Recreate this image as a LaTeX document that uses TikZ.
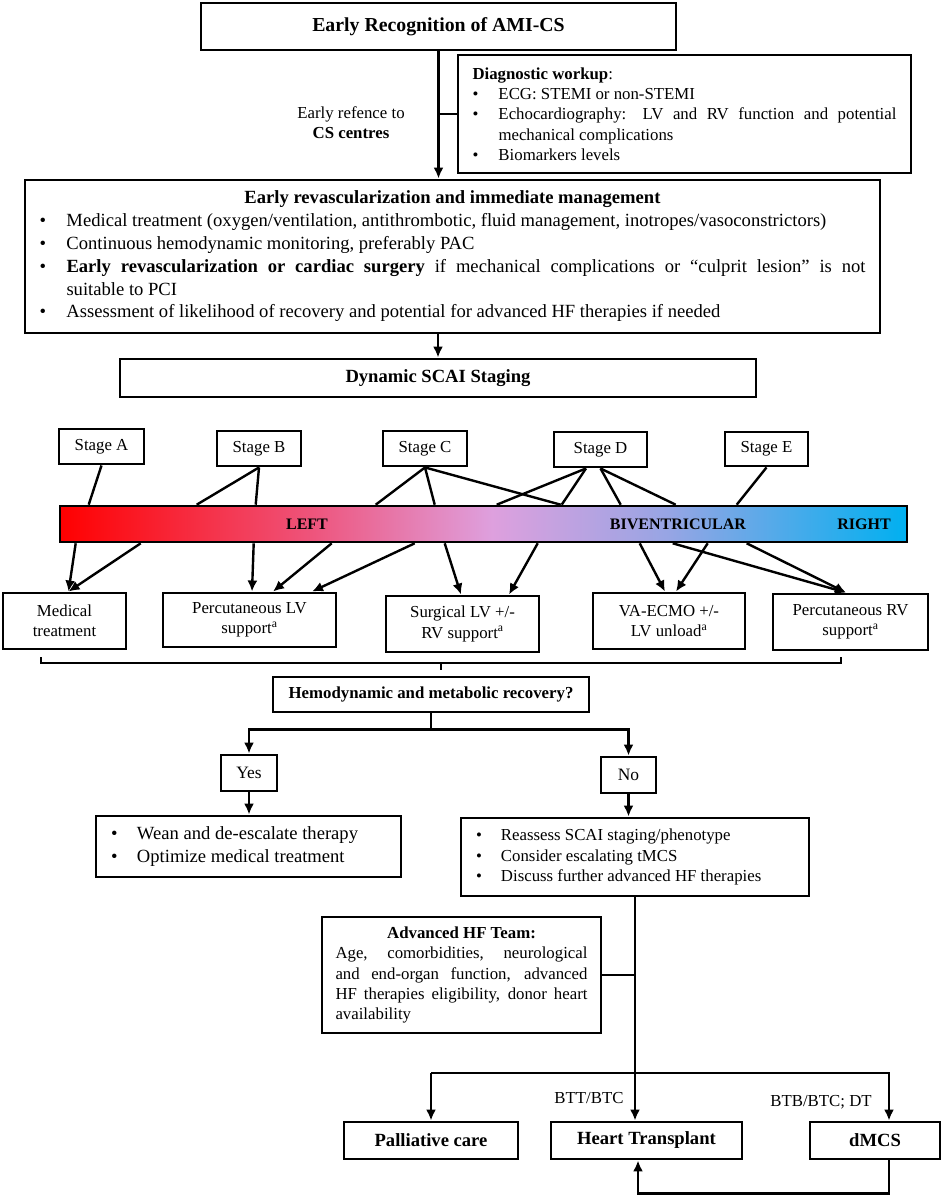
\documentclass[tikz,border=0pt]{standalone}
\usepackage{fontspec}
\setmainfont{Liberation Serif}
\usetikzlibrary{arrows.meta,calc}
\definecolor{g0}{RGB}{255,0,0}
\definecolor{g1}{RGB}{238,85,125}
\definecolor{g2}{RGB}{222,160,222}
\definecolor{g3}{RGB}{150,165,228}
\definecolor{g4}{RGB}{0,176,240}
\pgfdeclarehorizontalshading{barshade}{100bp}{color(0bp)=(g0); color(25bp)=(g0); color(40bp)=(g1); color(50.5bp)=(g2); color(61bp)=(g3); color(75bp)=(g4); color(100bp)=(g4)}
\newcommand\fsA{\fontsize{19.8}{23}\selectfont}
\newcommand\fsB{\fontsize{18.6}{22.8}\selectfont}
\newcommand\fsC{\fontsize{16.8}{20.3}\selectfont}
\newcommand\fsL{\fontsize{16}{19}\selectfont}
\newcommand\bitem{\par\noindent\llap{\hbox to \leftskip{•\hfil}}}
\begin{document}
\begin{tikzpicture}[x=1pt,y=-1pt,
  box/.style={draw, line width=2.9pt, inner sep=0pt, fill=white},
  conn/.style={line width=2.4pt},
  arr/.style={line width=2.4pt, -{Latex[length=11pt,width=10pt]}}]
\fill[white] (0,0) rectangle (944,1196);
\useasboundingbox (0,0) rectangle (944,1196);
% top part
\node[box, minimum width=475, minimum height=47, font=\fsA\bfseries] (top) at (438.5,26.5) {Early Recognition of AMI-CS};
\node[box, minimum width=453, minimum height=118] (diag) at (684.5,114) {\parbox{424pt}{\fsC\hyphenpenalty=10000\relax
\textbf{Diagnostic workup}:\par
\leftskip=26pt
\bitem ECG: STEMI or non-STEMI
\bitem Echocardiography: LV and RV function and potential\linebreak mechanical complications
\bitem Biomarkers levels}};
\node[font=\fsC, align=center] (ref) at (351,122.5) {Early refence to\\\textbf{CS centres}};
\node[box, minimum width=855, minimum height=153] (mgmt) at (452.5,256.5) {\parbox{826pt}{\fsB\hyphenpenalty=10000\relax
{\centering\bfseries Early revascularization and immediate management\par}
\leftskip=27pt
\bitem Medical treatment (oxygen/ventilation, antithrombotic, fluid management, inotropes/vasoconstrictors)
\bitem Continuous hemodynamic monitoring, preferably PAC
\bitem \textbf{Early revascularization or cardiac surgery} if mechanical complications or “culprit lesion” is not\linebreak suitable to PCI
\bitem Assessment of likelihood of recovery and potential for advanced HF therapies if needed}};
\node[box, minimum width=636, minimum height=38, font=\fsB\bfseries] (dyn) at (438,378) {Dynamic SCAI Staging};
\draw[arr] (top.south) -- (top.south |- mgmt.north);
\draw[conn] (top.south |- diag.west) -- (diag.west);
\draw[arr] (mgmt.south -| dyn.north) -- (dyn.north);
% stages
\node[box, minimum width=85, minimum height=35, font=\fsC] (sA) at (101.5,446.5) {Stage A};
\node[box, minimum width=84, minimum height=35, font=\fsC] (sB) at (259,448.5) {Stage B};
\node[box, minimum width=84, minimum height=35, font=\fsC] (sC) at (425,448.5) {Stage C};
\node[box, minimum width=93, minimum height=35, font=\fsC] (sD) at (600.5,449.5) {Stage D};
\node[box, minimum width=83, minimum height=34, font=\fsC] (sE) at (766.5,449) {Stage E};
% bar
\node[draw, line width=2.6pt, shade, shading=barshade, minimum width=847, minimum height=36, inner sep=0pt] (bar) at (483.5,524) {};
\node[font=\fsL\bfseries] (lL) at (307,524) {LEFT};
\node[font=\fsL\bfseries] (lB) at (678,524) {BIVENTRICULAR};
\node[font=\fsL\bfseries] (lR) at (864,524) {RIGHT};
% stage lines
\draw[conn] (sA.south) -- ($(bar.north west)+(30,0)$);
\draw[conn] (sB.south) -- ($(bar.north west)+(138,0)$);
\draw[conn] (sB.south) -- ($(bar.north west)+(197,0)$);
\draw[conn] (sC.south) -- ($(bar.north west)+(317,0)$);
\draw[conn] (sC.south) -- ($(bar.north west)+(376,0)$);
\draw[conn] (sC.south) -- ($(bar.north west)+(502,0)$);
\draw[conn] ($(sD.south)+(-14.5,0)$) -- ($(bar.north west)+(438,0)$);
\draw[conn] ($(sD.south)+(-14.5,0)$) -- ($(bar.north west)+(503,0)$);
\draw[conn] (sD.south) -- ($(bar.north west)+(562,0)$);
\draw[conn] (sD.south) -- ($(bar.north west)+(617,0)$);
\draw[conn] (sE.south) -- ($(bar.north west)+(678,0)$);
% therapies
\node[box, minimum width=123, minimum height=56, align=center, font=\fsC] (med) at (64.5,621) {Medical\\treatment};
\node[box, minimum width=173, minimum height=54, align=center, font=\fsC] (lv) at (249.5,620) {Percutaneous LV\\support\textsuperscript{a}};
\node[box, minimum width=153, minimum height=56, align=center, font=\fsC] (surg) at (462.5,624) {Surgical LV +/-\\RV support\textsuperscript{a}};
\node[box, minimum width=152, minimum height=56, align=center, font=\fsC] (va) at (669,621) {VA-ECMO +/-\\LV unload\textsuperscript{a}};
\node[box, minimum width=155, minimum height=56, align=center, font=\fsC] (rv) at (850.5,622) {Percutaneous RV\\support\textsuperscript{a}};
\draw[arr] ($(bar.south west)+(17,0)$) -- ($(med.north)+(4,0)$);
\draw[arr] ($(bar.south west)+(82,0)$) -- ($(med.north)+(4,0)$);
\draw[arr] ($(bar.south west)+(195,0)$) -- ($(lv.north)+(2.5,0)$);
\draw[arr] ($(bar.south west)+(273,0)$) -- ($(lv.north)+(23.5,0)$);
\draw[arr] ($(bar.south west)+(356,0)$) -- ($(lv.north)+(62.5,0)$);
\draw[arr] ($(bar.south west)+(386,0)$) -- ($(surg.north)+(-1.5,0)$);
\draw[arr] ($(bar.south west)+(479,0)$) -- ($(surg.north)+(46.5,0)$);
\draw[arr] ($(bar.south west)+(581,0)$) -- ($(va.north)+(-4,0)$);
\draw[arr] ($(bar.south west)+(649,0)$) -- ($(va.north)+(7,0)$);
\draw[arr] ($(bar.south west)+(614,0)$) -- ($(rv.north)+(-4.5,0)$);
\draw[arr] ($(bar.south west)+(688,0)$) -- ($(rv.north)+(-4.5,0)$);
% brace
\coordinate (brL) at (41,657);
\coordinate (brR) at (841,657);
\coordinate (brM) at (441,663);
\draw[conn] (brL) -- ++(0,6) -| (brR);
\draw[conn] (brM) -- ++(0,7);
% recovery
\node[box, minimum width=316, minimum height=35, font=\fontsize{16.8}{20}\selectfont\bfseries] (hemo) at (431,694.5) {Hemodynamic and metabolic recovery?};
\node[box, minimum width=56, minimum height=36, font=\fontsize{17.4}{20}\selectfont] (yes) at (249,773) {Yes};
\node[box, minimum width=55, minimum height=36, font=\fontsize{17.4}{20}\selectfont] (no) at (628.5,775) {No};
\draw[conn] (hemo.south) -- ++(0,16) coordinate (sp);
\draw[arr] (sp) -| (yes.north);
\draw[arr] (sp) -| (no.north);
\node[box, minimum width=305, minimum height=61] (wean) at (248.5,846.5) {\parbox{275pt}{\fontsize{18.6}{23}\selectfont\raggedright\leftskip=26pt
\bitem Wean and de-escalate therapy
\bitem Optimize medical treatment}};
\node[box, minimum width=348, minimum height=78] (re) at (635,857) {\parbox{318pt}{\fsC\raggedright\leftskip=25pt
\bitem Reassess SCAI staging/phenotype
\bitem Consider escalating tMCS
\bitem Discuss further advanced HF therapies}};
\draw[arr] (yes.south) -- (yes.south |- wean.north);
\draw[arr] (no.south) -- (no.south |- re.north);
% advanced team
\node[box, minimum width=279, minimum height=116] (adv) at (461.5,975) {\parbox{252pt}{\fsC\hyphenpenalty=10000\relax
{\centering\bfseries Advanced HF Team:\par}
Age, comorbidities, neurological\linebreak and end-organ function, advanced\linebreak HF therapies eligibility, donor heart\linebreak availability}};
% outcomes
\node[box, minimum width=174, minimum height=37, font=\fsB\bfseries] (pal) at (431,1140.5) {Palliative care};
\node[box, minimum width=191, minimum height=37, font=\fsB\bfseries] (ht) at (646.5,1140.5) {Heart Transplant};
\node[box, minimum width=130, minimum height=37, font=\fsB\bfseries] (dm) at (875,1140.5) {dMCS};
\draw[arr] (re.south) -- (re.south |- ht.north);
\draw[conn] (adv.east) -- (adv.east -| re.south);
\coordinate (jn) at (635,1073);
\draw[arr] (jn -| pal.north) -- (pal.north);
\draw[arr] (jn -| pal.north) -- ($(jn -| dm.north)+(14,0)$) -- ($(dm.north)+(14,0)$);
\draw[arr] ($(dm.south)+(14,0)$) -- ++(0,33) -| ($(ht.south)+(-8.5,0)$);
\node[font=\fsC] (btt) at (589,1098) {BTT/BTC};
\node[font=\fsC] (btb) at (821,1102) {BTB/BTC; DT};
\end{tikzpicture}
\end{document}
